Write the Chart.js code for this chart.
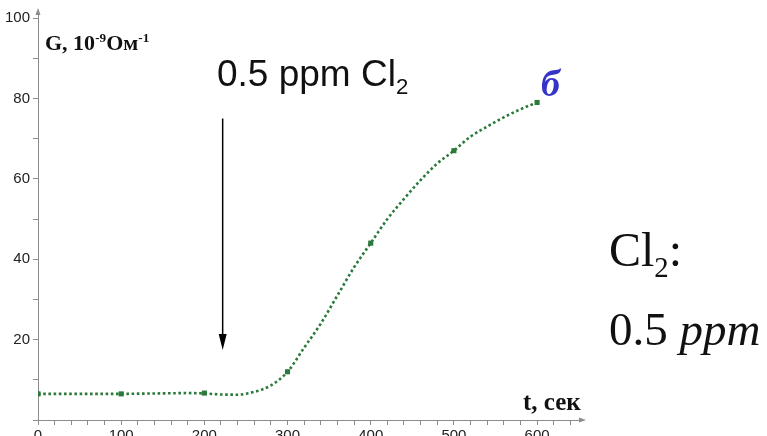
<!DOCTYPE html>
<html>
<head>
<meta charset="utf-8">
<script src="https://cdn.jsdelivr.net/npm/chart.js@4.4.0/dist/chart.umd.min.js"></script>
<style>
    html, body { margin: 0; padding: 0; background: #fff; overflow: hidden; }
    #wrap { position: relative; width: 767px; height: 450px; }
    .lbl { position: absolute; white-space: nowrap; line-height: 1; }
    .serif { font-family: "Liberation Serif", "DejaVu Serif", serif; }
    .sans { font-family: "Liberation Sans", Arial, sans-serif; }
    sup, sub { font-size: 0.6em; line-height: 0; }
</style>
</head>
<body>
<div id="wrap">
    <canvas id="chart"></canvas>
    <div class="lbl serif" style="left:45px; top:32px; font-size:22px; font-weight:bold; color:#111;">G, 10<sup>-9</sup>Ом<sup>-1</sup></div>
    <div class="lbl sans" style="left:217px; top:55px; font-size:37px; color:#111;">0.5 ppm Cl<sub>2</sub></div>
    <div class="lbl serif" style="left:541px; top:64px; font-size:38px; font-weight:bold; font-style:italic; color:#3434c8;">б</div>
    <div class="lbl serif" style="left:609px; top:226px; font-size:48px; color:#111;">Cl<sub>2</sub>:</div>
    <div class="lbl serif" style="left:609px; top:306px; font-size:47px; color:#111;">0.5 <i>ppm</i></div>
    <div class="lbl serif" style="left:523px; top:389px; font-size:25px; font-weight:bold; color:#111;">t, сек</div>
</div>
<script>
// время, сек и проводимость G (10^-9 Ом^-1)
const timeSec = [0, 20, 40, 60, 80, 100, 120, 140, 160, 180, 200, 220, 240, 260, 280, 300,
                 320, 340, 360, 380, 400, 420, 440, 460, 480, 500, 520, 540, 560, 580, 600];
const conductance = [6.5, 6.5, 6.5, 6.5, 6.5, 6.5, 6.55, 6.6, 6.65, 6.7, 6.6, 6.35, 6.3, 7.0, 8.6, 12,
                     18, 24, 31, 38, 44, 50, 55, 59.7, 63.8, 67, 70.5, 73, 75.3, 77.3, 79];

// отмеченные точки (каждые 100 с)
const markerTimes = [0, 100, 200, 300, 400, 500, 600];
const markerValues = [6.5, 6.5, 6.7, 12, 44, 67, 79];

const xTickValues = [0, 20, 40, 60, 80, 100, 120, 140, 160, 180, 200, 220, 240, 260, 280, 300,
                     320, 340, 360, 380, 400, 420, 440, 460, 480, 500, 520, 540, 560, 580, 600, 620, 640];
const yTickValues = [0, 10, 20, 30, 40, 50, 60, 70, 80, 90, 100];

// момент подачи хлора (стрелка)
const injectTime = 222;
const arrowFrom = 75;
const arrowTo = 17.4;

const green = '#2b7a3b';
const axisGray = '#8c8c8c';

const curveData = timeSec.map((t, i) => ({ x: t, y: conductance[i] }));
const markerData = markerTimes.map((t, i) => ({ x: t, y: markerValues[i] }));

// стрелки на концах осей + стрелка ввода Cl2
const arrowsPlugin = {
    id: 'arrows',
    afterDraw(chart) {
        const ctx = chart.ctx;
        const area = chart.chartArea;
        const xs = chart.scales.x;
        const ys = chart.scales.y;
        ctx.save();
        ctx.fillStyle = axisGray;
        // ось X
        ctx.beginPath();
        ctx.moveTo(area.right + 4, area.bottom);
        ctx.lineTo(area.right - 3, area.bottom - 2.5);
        ctx.lineTo(area.right - 3, area.bottom + 2.5);
        ctx.closePath();
        ctx.fill();
        // ось Y
        ctx.beginPath();
        ctx.moveTo(area.left, area.top - 4);
        ctx.lineTo(area.left - 2.5, area.top + 3);
        ctx.lineTo(area.left + 2.5, area.top + 3);
        ctx.closePath();
        ctx.fill();

        // стрелка ввода
        const ax = xs.getPixelForValue(injectTime);
        const y1 = ys.getPixelForValue(arrowFrom);
        const y2 = ys.getPixelForValue(arrowTo);
        ctx.strokeStyle = '#000';
        ctx.fillStyle = '#000';
        ctx.lineWidth = 1.5;
        ctx.beginPath();
        ctx.moveTo(ax, y1);
        ctx.lineTo(ax, y2 - 14);
        ctx.stroke();
        ctx.beginPath();
        ctx.moveTo(ax, y2);
        ctx.lineTo(ax - 4, y2 - 16);
        ctx.lineTo(ax + 4, y2 - 16);
        ctx.closePath();
        ctx.fill();
        ctx.restore();
    }
};

const ctx = document.getElementById('chart').getContext('2d');
new Chart(ctx, {
    type: 'line',
    data: {
        datasets: [
            {
                data: markerData,
                order: 1,
                showLine: false,
                pointStyle: 'rect',
                pointRadius: 3.6,
                pointBackgroundColor: green,
                pointBorderColor: green,
                pointBorderWidth: 0
            },
            {
                data: curveData,
                order: 2,
                borderColor: green,
                borderWidth: 2.6,
                borderDash: [2.6, 2.6],
                borderCapStyle: 'butt',
                cubicInterpolationMode: 'monotone',
                pointRadius: 0,
                fill: false
            }
        ]
    },
    options: {
        responsive: true,
        maintainAspectRatio: false,
        animation: false,
        layout: { padding: { top: 12, right: 185, left: 0, bottom: 0 } },
        plugins: {
            legend: { display: false },
            tooltip: { enabled: false }
        },
        scales: {
            x: {
                type: 'linear',
                min: 0,
                max: 654,
                afterBuildTicks: (s) => { s.ticks = xTickValues.map(v => ({ value: v })); },
                afterFit: (s) => { s.height = 30; },
                grid: { drawOnChartArea: false, drawTicks: true, tickLength: 5, color: axisGray },
                border: { display: true, color: axisGray, width: 1 },
                ticks: {
                    autoSkip: false,
                    maxRotation: 0,
                    padding: 2,
                    color: '#222',
                    font: { family: '"Liberation Sans", Arial, sans-serif', size: 15 },
                    callback: (v) => (v % 100 === 0 ? String(v) : '')
                }
            },
            y: {
                min: 0,
                max: 101.5,
                afterBuildTicks: (s) => { s.ticks = yTickValues.map(v => ({ value: v })); },
                afterFit: (s) => { s.width = 38; },
                grid: { drawOnChartArea: false, drawTicks: true, tickLength: 5, color: axisGray },
                border: { display: true, color: axisGray, width: 1 },
                ticks: {
                    padding: 3,
                    color: '#222',
                    font: { family: '"Liberation Sans", Arial, sans-serif', size: 15 },
                    callback: (v) => (v % 20 === 0 && v > 0 ? String(v) : '')
                }
            }
        }
    },
    plugins: [arrowsPlugin]
});
</script>
</body>
</html>
